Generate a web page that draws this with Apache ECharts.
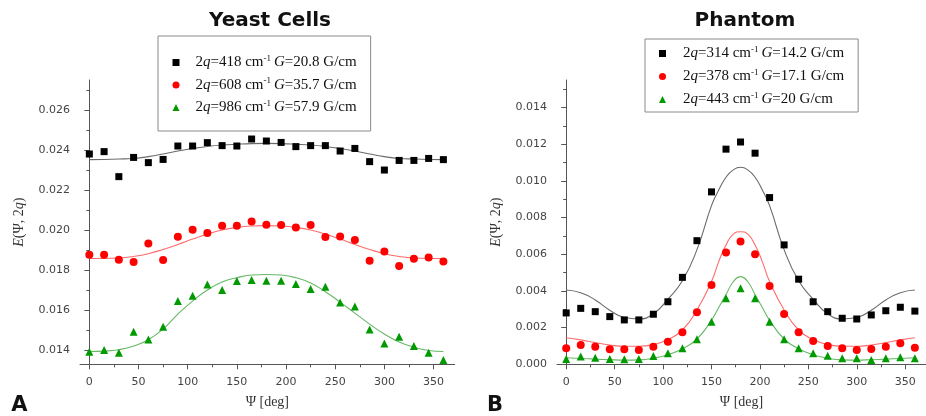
<!DOCTYPE html>
<html>
<head>
<meta charset="utf-8">
<script src="https://cdn.jsdelivr.net/npm/echarts@6/dist/echarts.min.js"></script>
<style>html,body{margin:0;padding:0;background:#fff}#c{width:926px;height:416px}</style>
</head>
<body>
<div id="c"></div>
<script>
// ---------- data ----------
const angles = [0,15,30,45,60,75,90,105,120,135,150,165,180,195,210,225,240,255,270,285,300,315,330,345,360];
const phantomFitAngles = [0,15,30,45,60,75,90,105,120,135,150,157.5,165,172.5,180,187.5,195,202.5,210,225,240,255,270,285,300,315,330,345,360];

const yeastNames = ['2q=418 cm-1 G=20.8 G/cm','2q=608 cm-1 G=35.7 G/cm','2q=986 cm-1 G=57.9 G/cm'];
const phantomNames = ['2q=314 cm-1 G=14.2 G/cm','2q=378 cm-1 G=17.1 G/cm','2q=443 cm-1 G=20 G/cm'];

const yeast418 = [0.0238,0.02392,0.02267,0.02363,0.02337,0.02353,0.0242,0.0242,0.02437,0.02422,0.0242,0.02455,0.02445,0.02438,0.02417,0.02422,0.02422,0.02395,0.02408,0.02342,0.023,0.02348,0.02348,0.02358,0.02352];
const yeast608 = [0.01877,0.01877,0.01852,0.0184,0.01933,0.0185,0.01967,0.02002,0.01985,0.02022,0.02022,0.02043,0.02027,0.02025,0.02013,0.02025,0.01965,0.01968,0.0195,0.01847,0.01893,0.0182,0.01857,0.01863,0.01843];
const yeast986 = [0.01392,0.014,0.01387,0.01492,0.01453,0.01517,0.01645,0.01672,0.01728,0.017,0.01745,0.0175,0.01747,0.01747,0.0173,0.01705,0.01717,0.01638,0.01618,0.01503,0.01433,0.01467,0.0142,0.01387,0.0135];

const yeastFit418 = [0.02352,0.02353,0.02355,0.02358,0.02367,0.0238,0.02395,0.02408,0.02418,0.02425,0.02429,0.02432,0.02433,0.02432,0.02429,0.02425,0.02418,0.02408,0.02395,0.0238,0.02367,0.02358,0.02355,0.02353,0.02352];
const yeastFit608 = [0.01858,0.01858,0.0186,0.01868,0.01882,0.01903,0.01928,0.01955,0.0198,0.02,0.02013,0.0202,0.02022,0.0202,0.02013,0.02,0.0198,0.01955,0.01928,0.01903,0.01882,0.01868,0.0186,0.01858,0.01858];
const yeastFit986 = [0.01393,0.01395,0.01402,0.0142,0.01452,0.01505,0.0158,0.01645,0.017,0.0174,0.01762,0.01775,0.01778,0.01775,0.01762,0.01735,0.01692,0.0164,0.01585,0.0153,0.0148,0.0144,0.01415,0.01398,0.01393];

const phantom314 = [0.0028,0.00305,0.00287,0.0026,0.00242,0.00242,0.00273,0.00341,0.00474,0.00674,0.0094,0.01173,0.01212,0.01151,0.00909,0.00651,0.00464,0.00341,0.00287,0.00251,0.00247,0.00269,0.00292,0.00311,0.0029];
const phantom378 = [0.00087,0.00105,0.00096,0.00082,0.00082,0.00078,0.00096,0.00123,0.00175,0.00284,0.00432,0.00609,0.00669,0.006,0.00427,0.00274,0.00175,0.00127,0.001,0.00087,0.00078,0.00083,0.00096,0.00115,0.0009];
const phantom443 = [0.00029,0.00042,0.00036,0.00029,0.00027,0.00029,0.00045,0.0006,0.00087,0.00136,0.00232,0.0036,0.00414,0.0036,0.00232,0.00136,0.00087,0.0006,0.00047,0.00033,0.00033,0.00023,0.00033,0.00038,0.00033];

const phantomFit314 = [0.00405,0.0039,0.00351,0.00295,0.00255,0.00247,0.00275,0.00355,0.00455,0.00625,0.00865,0.0095,0.0102,0.0106,0.01074,0.0106,0.0102,0.0095,0.00865,0.00625,0.00455,0.00355,0.00275,0.00247,0.00255,0.00295,0.00351,0.0039,0.00405];
const phantomFit378 = [0.00145,0.00133,0.00118,0.00105,0.00098,0.00098,0.00108,0.00135,0.00187,0.00296,0.00451,0.0056,0.00651,0.0071,0.00723,0.0071,0.00651,0.0056,0.00451,0.00296,0.00187,0.00135,0.00108,0.00098,0.00098,0.00105,0.00118,0.00133,0.00145];
const phantomFit443 = [0.00036,0.00032,0.00028,0.00025,0.00023,0.00024,0.00033,0.00052,0.00085,0.00138,0.0024,0.0031,0.0038,0.0045,0.00478,0.0045,0.0038,0.0031,0.0024,0.00138,0.00085,0.00052,0.00033,0.00024,0.00023,0.00025,0.00028,0.00032,0.00036];

const xMajorTicks = [0,50,100,150,200,250,300,350];
const xMinorTicks = [25,75,125,175,225,275,325];
const yeastYTicks = [0.014,0.016,0.018,0.020,0.022,0.024,0.026];
const yeastYMinor = [0.015,0.017,0.019,0.021,0.023,0.025,0.027];
const phantomYTicks = [0,0.002,0.004,0.006,0.008,0.010,0.012,0.014];
const phantomYMinor = [0.001,0.003,0.005,0.007,0.009,0.011,0.013,0.015];

// ---------- chart ----------
const AX = '#555';
const LBL = {color:'#444', fontFamily:'DejaVu Sans', fontSize:11};
const serif = 'Liberation Serif';

function xAxes(grid){
  return [{
    gridIndex:grid, type:'value', min:-9.5, max:371.5, position:'bottom', offset:0,
    axisLine:{show:true, lineStyle:{color:AX, width:1}},
    axisTick:{show:true, customValues:xMajorTicks, length:5, lineStyle:{color:AX}},
    axisLabel:Object.assign({customValues:xMajorTicks, margin:12}, LBL),
    splitLine:{show:false},
    name:'Ψ [deg]', nameLocation:'middle', nameGap:31,
    nameTextStyle:{fontFamily:serif, fontSize:14, color:'#333'}
  },{
    gridIndex:grid, type:'value', min:-9.5, max:371.5, position:'bottom', offset:0,
    axisLine:{show:false},
    axisTick:{show:true, customValues:xMinorTicks, length:3, lineStyle:{color:AX}},
    axisLabel:{show:false}, splitLine:{show:false}
  }];
}
const yNameRich = {
  i:{fontFamily:serif, fontStyle:'italic', fontSize:14, color:'#333'},
  n:{fontFamily:serif, fontSize:14, color:'#333'}
};
function yAxes(grid, min, max, major, minor){
  return [{
    gridIndex:grid, type:'value', min:min, max:max, position:'left', offset:0,
    axisLine:{show:true, lineStyle:{color:AX, width:1}},
    axisTick:{show:true, customValues:major, length:5, lineStyle:{color:AX}},
    axisLabel:Object.assign({customValues:major, margin:10, formatter:v=>v.toFixed(3)}, LBL),
    splitLine:{show:false},
    name:'{i|E}{n|(Ψ, 2}{i|q}{n|)}', nameLocation:'middle', nameGap:54,
    nameTextStyle:{rich:yNameRich}
  },{
    gridIndex:grid, type:'value', min:min, max:max, position:'left', offset:0,
    axisLine:{show:false},
    axisTick:{show:true, customValues:minor, length:3, lineStyle:{color:AX}},
    axisLabel:{show:false}, splitLine:{show:false}
  }];
}

const legRich = {
  sp:{width:11},
  n:{fontFamily:serif, fontSize:15, color:'#111', lineHeight:16},
  i:{fontFamily:serif, fontSize:15, fontStyle:'italic', color:'#111', lineHeight:16},
  s:{fontFamily:serif, fontSize:9, color:'#111', lineHeight:9, padding:[0,3,8,0]}
};
function legFmt(name){
  const m = name.match(/^2q=(\d+) cm-1 G=(.+)$/);
  return '{sp|}{n|2}{i|q}{n|=' + m[1] + ' cm}{s|-1}{i|G}{n|=' + m[2] + '}';
}
function legend(names, left, top, padding, gap, sp){
  const rich = JSON.parse(JSON.stringify(legRich));
  rich.sp.width = sp;
  return {
    data:names, orient:'vertical', left:left, top:top, padding:padding, itemGap:gap,
    itemWidth:7, itemHeight:7, borderColor:'#8a8a8a', borderWidth:1, backgroundColor:'#fff',
    selectedMode:false, formatter:legFmt, textStyle:{rich:rich}
  };
}

const colors = ['#000000','#ff0000','#009a00'];
const fitColors = ['#6a6a6a','#ff6a6a','#66b866'];
const symbols = ['rect','circle','triangle'];
const sizes = [7,8,8];

function pts(xs, arr){ return xs.map((a,i)=>[a,arr[i]]); }
function scatter(name, arr, k, xi, yi){
  return {type:'scatter', name:name, xAxisIndex:xi, yAxisIndex:yi, data:pts(angles, arr),
    symbol:symbols[k], symbolSize:sizes[k], itemStyle:{color:colors[k], opacity:1}, z:3, silent:true};
}
function fit(xs, arr, k, xi, yi){
  return {type:'line', name:'fit'+xi+k, xAxisIndex:xi, yAxisIndex:yi, data:pts(xs, arr), smooth:0.5,
    showSymbol:false, symbol:'none', lineStyle:{color:fitColors[k], width:1.1}, z:2, silent:true};
}

const option = {
  backgroundColor:'#fff',
  animation:false,
  title:[
    {text:'Yeast Cells', left:270, top:11, textAlign:'center', padding:0, textStyle:{fontFamily:'DejaVu Sans', fontWeight:'bold', fontSize:20, color:'#111'}},
    {text:'Phantom', left:745, top:11, textAlign:'center', padding:0, textStyle:{fontFamily:'DejaVu Sans', fontWeight:'bold', fontSize:20, color:'#111'}},
    {text:'A', left:19.5, top:395, textAlign:'center', padding:0, textStyle:{fontFamily:'DejaVu Sans', fontWeight:'bold', fontSize:21, color:'#111'}},
    {text:'B', left:495, top:395, textAlign:'center', padding:0, textStyle:{fontFamily:'DejaVu Sans', fontWeight:'bold', fontSize:21, color:'#111'}}
  ],
  legend:[
    legend(yeastNames, 158, 36, [18,14,15,14.5], 5.5, 11),
    legend(phantomNames, 645, 39, [6,14,4,14], 6, 12)
  ],
  grid:[
    {left:80, top:80, width:374.7, height:284.3},
    {left:557, top:80, width:374.7, height:284.3}
  ],
  xAxis:[].concat(xAxes(0), xAxes(1)),
  yAxis:[].concat(
    yAxes(0, 0.01329, 0.0275, yeastYTicks, yeastYMinor),
    yAxes(1, 0, 0.0155, phantomYTicks, phantomYMinor)
  ),
  series:[
    fit(angles, yeastFit418,0,0,0), fit(angles, yeastFit608,1,0,0), fit(angles, yeastFit986,2,0,0),
    scatter(yeastNames[0], yeast418, 0, 0, 0),
    scatter(yeastNames[1], yeast608, 1, 0, 0),
    scatter(yeastNames[2], yeast986, 2, 0, 0),
    fit(phantomFitAngles, phantomFit314,0,2,2), fit(phantomFitAngles, phantomFit378,1,2,2), fit(phantomFitAngles, phantomFit443,2,2,2),
    scatter(phantomNames[0], phantom314, 0, 2, 2),
    scatter(phantomNames[1], phantom378, 1, 2, 2),
    scatter(phantomNames[2], phantom443, 2, 2, 2)
  ]
};
const chart = echarts.init(document.getElementById('c'), null, {renderer:'canvas'});
chart.setOption(option);
</script>
</body>
</html>
